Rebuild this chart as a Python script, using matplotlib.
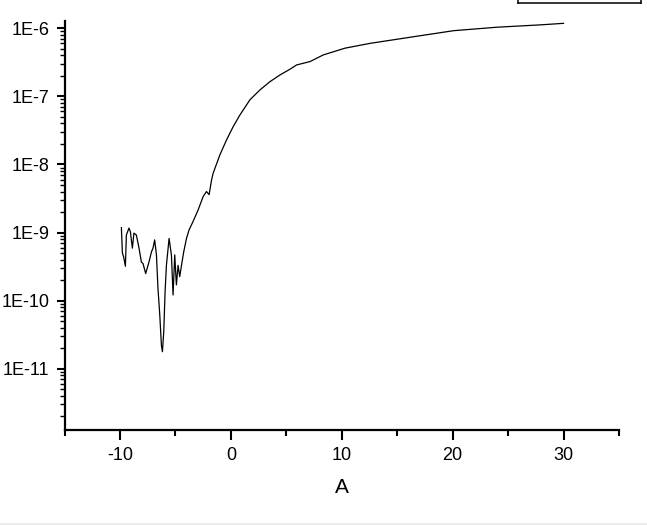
import matplotlib
matplotlib.use("Agg")
import matplotlib.pyplot as plt
import matplotlib.ticker as mticker
from matplotlib.patches import Rectangle
from matplotlib.lines import Line2D
import numpy as np

# data
x_vals = [-9.87, -9.78, -9.67, -9.51, -9.42, -9.19, -9.06, -8.88, -8.74, -8.52,
          -8.28, -8.07, -7.92, -7.68, -7.38, -7.16, -7.02, -6.87, -6.71, -6.57,
          -6.41, -6.26, -6.17, -6.05, -5.93, -5.81, -5.57, -5.36, -5.21, -5.06,
          -4.91, -4.76, -4.61, -4.45, -4.25, -4.00, -3.77, -3.41, -2.95, -2.50,
          -2.20, -1.96, -1.74, -1.60, -0.99, -0.39, 0.21, 0.81, 1.72, 2.62,
          3.52, 4.43, 5.33, 5.93, 7.14, 8.34, 10.30, 12.56, 16.47, 20.08,
          24.0, 27.9, 30.0]
y_vals = [1.18e-9, 5.0e-10, 4.4e-10, 3.2e-10, 9.2e-10, 1.16e-9, 1.03e-9, 5.9e-10, 9.8e-10, 9.2e-10,
          5.9e-10, 3.7e-10, 3.5e-10, 2.5e-10, 3.7e-10, 5.2e-10, 5.9e-10, 7.8e-10, 4.7e-10, 1.5e-10,
          6.2e-11, 2.2e-11, 1.78e-11, 3.5e-11, 1.35e-10, 3.3e-10, 8.2e-10, 4.7e-10, 1.21e-10, 4.7e-10,
          1.7e-10, 3.3e-10, 2.25e-10, 3.3e-10, 5.2e-10, 8.2e-10, 1.09e-9, 1.45e-9, 2.15e-9, 3.37e-9,
          4.0e-9, 3.6e-9, 5.9e-9, 7.4e-9, 1.38e-8, 2.29e-8, 3.59e-8, 5.3e-8, 8.9e-8, 1.24e-7,
          1.64e-7, 2.06e-7, 2.50e-7, 2.89e-7, 3.24e-7, 4.06e-7, 5.1e-7, 6.0e-7, 7.5e-7, 9.2e-7,
          1.035e-6, 1.12e-6, 1.18e-6]
x_ticks = [-10, 0, 10, 20, 30]
y_ticks = [1e-11, 1e-10, 1e-9, 1e-8, 1e-7, 1e-6]
y_tick_labels = ["1E-11", "1E-10", "1E-9", "1E-8", "1E-7", "1E-6"]
x_label = "A"

plt.rcParams['font.family'] = ['Liberation Sans', 'DejaVu Sans']

fig = plt.figure(figsize=(6.47, 5.25), dpi=100)
ax = fig.add_axes([64.5/647, 1-430/525, (619-64.5)/647, (430-20.7)/525])

ax.plot(x_vals, y_vals, color='black', lw=0.9)
ax.set_yscale('log')
ax.set_xlim(-15, 35)
ax.set_ylim(1.26e-12, 1.29e-6)

ax.set_xticks(x_ticks)
ax.set_xticklabels([str(t) for t in x_ticks])
ax.xaxis.set_minor_locator(mticker.MultipleLocator(5))
ax.set_yticks(y_ticks)
ax.set_yticklabels(y_tick_labels)
ax.yaxis.set_minor_locator(mticker.LogLocator(base=10, subs=np.arange(2, 10), numticks=50))
ax.yaxis.set_minor_formatter(mticker.NullFormatter())

for s in ['top', 'right']:
    ax.spines[s].set_visible(False)
for s in ['left', 'bottom']:
    ax.spines[s].set_linewidth(1.6)

ax.tick_params(axis='x', which='major', length=7, width=1.5, labelsize=13, pad=5, direction='out')
ax.tick_params(axis='x', which='minor', length=4.5, width=1.5, direction='out')
ax.tick_params(axis='y', which='major', length=6, width=1.5, labelsize=13, pad=5, direction='out')
ax.tick_params(axis='y', which='minor', length=3.5, width=1.0, direction='out')

ax.set_xlabel(x_label, fontsize=15, labelpad=10)

# partially visible box at top right
x0, x1, yb = 518/647, 640.7/647, 1-3.3/525
for seg in [([x0, x1], [yb, yb]), ([x0, x0], [yb, 1.0]), ([x1, x1], [yb, 1.0])]:
    fig.add_artist(Line2D(seg[0], seg[1], color='black', lw=1.1, transform=fig.transFigure))

# light gray band at bottom
fig.add_artist(Rectangle((0, 0), 1, 2.5/525, transform=fig.transFigure, color='#ececec', lw=0))

fig.savefig("out.png", dpi=100)
